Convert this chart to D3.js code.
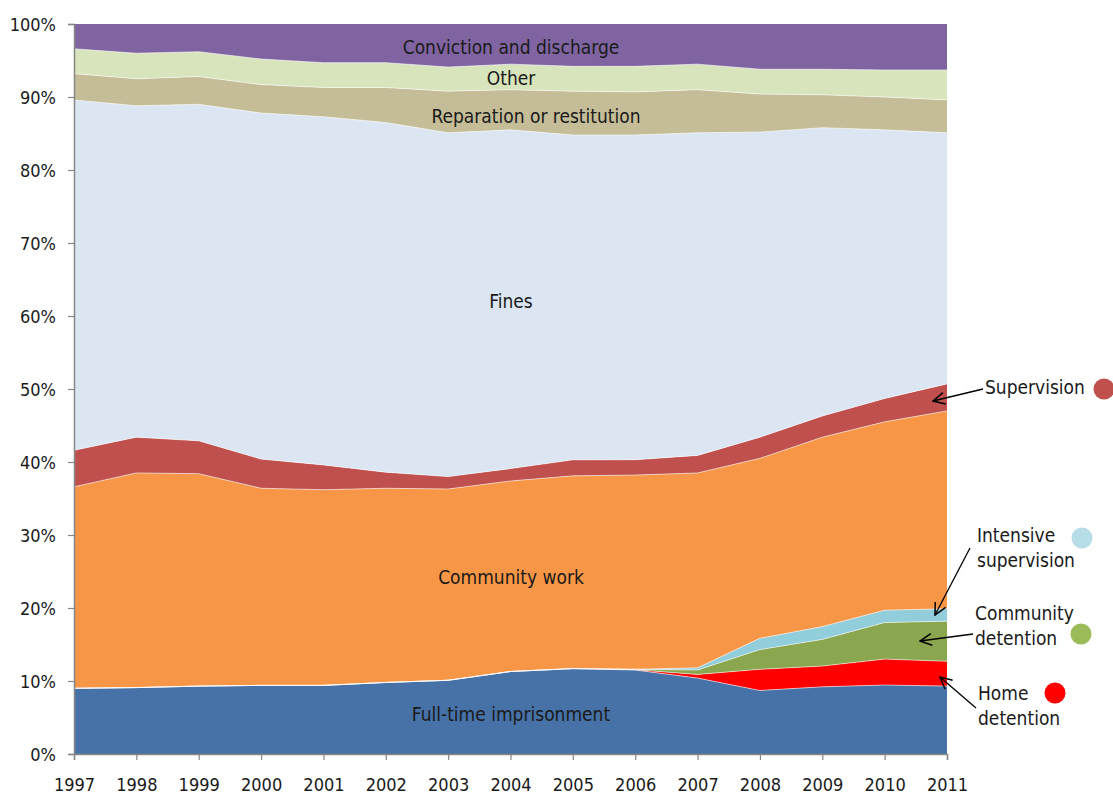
<!DOCTYPE html>
<html><head><meta charset="utf-8">
<script src="https://cdn.jsdelivr.net/npm/d3@7"></script>
<style>
body{margin:0;background:#fff;}
svg text{font-family:"Liberation Sans Narrow","DejaVu Sans Condensed","Roboto Condensed",sans-serif;fill:#1a1a1a;}
</style></head>
<body><svg id="chart" width="1113" height="796"></svg>
<script>
const years = [1997,1998,1999,2000,2001,2002,2003,2004,2005,2006,2007,2008,2009,2010,2011];
const fullTime      = [9.0,9.1,9.3,9.4,9.4,9.8,10.1,11.3,11.7,11.5,10.4,8.7,9.2,9.45,9.3];
const homeDet       = [0,0,0,0,0,0,0,0,0,0.05,0.5,2.9,2.85,3.55,3.4];
const commDet       = [0,0,0,0,0,0,0,0,0,0.05,0.6,2.7,3.65,5.0,5.5];
const intensiveSup  = [0,0,0,0,0,0,0,0,0,0.02,0.3,1.55,1.75,1.7,1.7];
const communityWork = [27.6,29.4,29.1,27.0,26.8,26.6,26.2,26.1,26.4,26.6,26.7,24.65,25.95,25.8,27.1];
const supervision   = [5.0,4.9,4.5,4.0,3.4,2.2,1.7,1.7,2.2,2.1,2.4,2.9,2.9,3.2,3.7];
const fines         = [48.0,45.4,46.1,47.4,47.7,47.9,47.1,46.4,44.5,44.5,44.2,41.8,39.5,36.8,34.4];
const reparation    = [3.6,3.7,3.8,3.9,4.0,4.8,5.7,5.5,6.0,5.9,5.9,5.2,4.5,4.5,4.5];
const other         = [3.4,3.5,3.4,3.5,3.4,3.4,3.3,3.5,3.4,3.5,3.5,3.4,3.5,3.7,4.1];
const conviction    = [3.4,4.0,3.8,4.8,5.3,5.3,5.9,5.5,5.8,5.8,5.5,6.2,6.2,6.3,6.3];
const yTicks = [0,0.1,0.2,0.3,0.4,0.5,0.6,0.7,0.8,0.9,1.0];

const series = [
  {key:"Full-time imprisonment", values:fullTime, color:"#4672A7"},
  {key:"Home detention", values:homeDet, color:"#FF0000"},
  {key:"Community detention", values:commDet, color:"#8AA64F"},
  {key:"Intensive supervision", values:intensiveSup, color:"#92CDDC"},
  {key:"Community work", values:communityWork, color:"#F79646"},
  {key:"Supervision", values:supervision, color:"#C0504D"},
  {key:"Fines", values:fines, color:"#DCE6F2"},
  {key:"Reparation or restitution", values:reparation, color:"#C4BD97"},
  {key:"Other", values:other, color:"#D8E4BC"},
  {key:"Conviction and discharge", values:conviction, color:"#8064A2"}
];

const table = years.map((y,i)=>{const o={year:y}; series.forEach(s=>o[s.key]=s.values[i]); return o;});
const stack = d3.stack().keys(series.map(s=>s.key)).offset(d3.stackOffsetExpand);
const layers = stack(table);

const svg = d3.select("#chart");
const L=74, R=947, T=24, B=754;
const x = d3.scaleLinear().domain([1997,2011]).range([L,R]);
const y = d3.scaleLinear().domain([0,1]).range([B,T]);

const area = d3.area().x(d=>x(d.data.year)).y0(d=>y(d[0])).y1(d=>y(d[1]));
const topLine = d3.line().x(d=>x(d.data.year)).y(d=>y(d[1]));

svg.append("g").selectAll("path").data(layers).join("path")
  .attr("d",area).attr("fill",(d,i)=>series[i].color);
svg.append("g").selectAll("path").data(layers.slice(0,-1)).join("path")
  .attr("d",topLine).attr("fill","none").attr("stroke","#ffffff").attr("stroke-width",0.8).attr("stroke-opacity",0.7);

// axes
const axisColor="#868686";
const yAxis = svg.append("g").attr("transform",`translate(${L},0)`)
  .call(d3.axisLeft(y).tickValues(yTicks).tickFormat(d3.format(".0%")).tickSizeOuter(0).tickSize(6).tickPadding(12));
yAxis.select(".domain").attr("stroke",axisColor).attr("stroke-width",1.5);
yAxis.selectAll(".tick line").attr("stroke",axisColor).attr("stroke-width",1.2);
yAxis.selectAll("text").attr("font-size",18).attr("fill","#1a1a1a").attr("dy","0.35em");

const xAxis = svg.append("g").attr("transform",`translate(0,${B})`)
  .call(d3.axisBottom(x).tickValues(years).tickFormat(d3.format("d")).tickSizeOuter(0).tickSize(6).tickPadding(18));
xAxis.select(".domain").attr("stroke",axisColor).attr("stroke-width",1.5);
xAxis.selectAll(".tick line").attr("stroke",axisColor).attr("stroke-width",1.2);
xAxis.selectAll("text").attr("font-size",18).attr("fill","#1a1a1a");

// in-area labels
const inLabels = [
  {t:"Conviction and discharge", x:511, y:47},
  {t:"Other", x:511, y:78},
  {t:"Reparation or restitution", x:536, y:116},
  {t:"Fines", x:511, y:301},
  {t:"Community work", x:511, y:577},
  {t:"Full-time imprisonment", x:511, y:714}
];
svg.append("g").selectAll("text").data(inLabels).join("text")
  .attr("x",d=>d.x).attr("y",d=>d.y).attr("dy","0.35em").attr("text-anchor","middle")
  .attr("font-size",19).text(d=>d.t);

// arrow marker
svg.append("defs").append("marker").attr("id","arr")
  .attr("viewBox","0 0 12 12").attr("refX",11).attr("refY",6)
  .attr("markerWidth",14).attr("markerHeight",14).attr("markerUnits","userSpaceOnUse")
  .attr("orient","auto")
  .append("path").attr("d","M1,1 L11,6 L1,11").attr("fill","none").attr("stroke","#000").attr("stroke-width",1.3);

const notes = [
  {lines:["Supervision"], tx:985, ty:387, dot:[1104,389], color:"#C0504D", ax:[983,389], ah:[933,401]},
  {lines:["Intensive","supervision"], tx:977, ty:535, dot:[1082,538], color:"#B7DEE8", ax:[970,548], ah:[935,615]},
  {lines:["Community","detention"], tx:975, ty:613, dot:[1081,634], color:"#9BBB59", ax:[973,634], ah:[920,641]},
  {lines:["Home","detention"], tx:978, ty:693, dot:[1055,693], color:"#FF0000", ax:[976,708], ah:[940,677]}
];
const ng = svg.append("g");
notes.forEach(n=>{
  ng.append("line").attr("x1",n.ax[0]).attr("y1",n.ax[1]).attr("x2",n.ah[0]).attr("y2",n.ah[1])
    .attr("stroke","#000").attr("stroke-width",1.3).attr("marker-end","url(#arr)");
  const t = ng.append("text").attr("x",n.tx).attr("y",n.ty).attr("dy","0.35em").attr("font-size",19);
  n.lines.forEach((l,i)=>t.append("tspan").attr("x",n.tx).attr("dy",i===0?"0.35em":"1.35em").text(l));
  ng.append("circle").attr("cx",n.dot[0]).attr("cy",n.dot[1]).attr("r",10.5).attr("fill",n.color);
});
</script></body></html>
